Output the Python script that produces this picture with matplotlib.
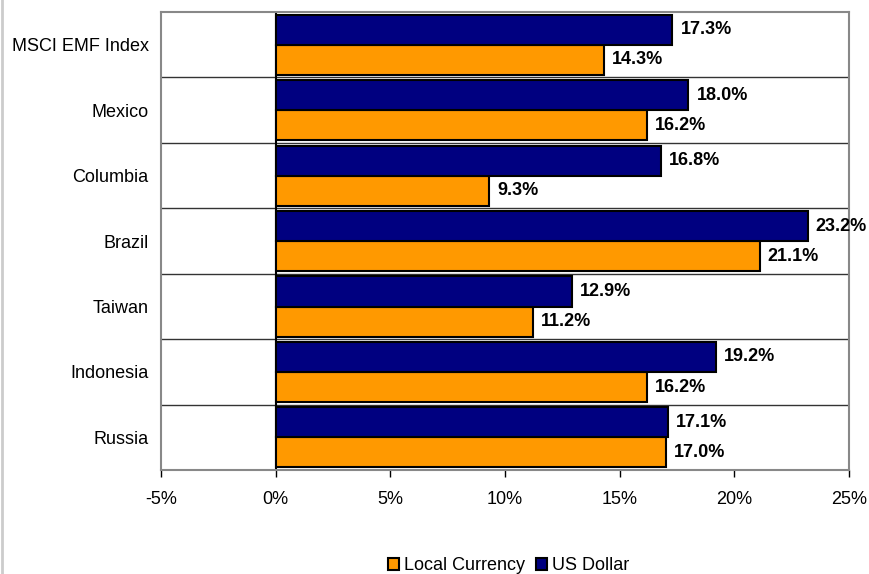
import matplotlib.pyplot as plt
import numpy as np
from matplotlib.lines import Line2D
from matplotlib.ticker import FuncFormatter

plt.rcParams['font.family'] = ['Liberation Sans', 'DejaVu Sans']

# categories listed bottom to top
countries = ['Russia', 'Indonesia', 'Taiwan', 'Brazil', 'Columbia', 'Mexico', 'MSCI EMF Index']
local_currency = [17.0, 16.2, 11.2, 21.1, 9.3, 16.2, 14.3]
us_dollar = [17.1, 19.2, 12.9, 23.2, 16.8, 18.0, 17.3]
x_ticks = [-5, 0, 5, 10, 15, 20, 25]

ORANGE = '#FF9900'
NAVY = '#000080'

fig = plt.figure(figsize=(8.69, 5.74), dpi=100)
ax = fig.add_axes([0.1853, 0.181, 0.7917, 0.798])

y = np.arange(len(countries))
h = 0.46
ax.barh(y - h / 2, local_currency, height=h, color=ORANGE, edgecolor='black',
        linewidth=1.5, label='Local Currency', zorder=3)
ax.barh(y + h / 2, us_dollar, height=h, color=NAVY, edgecolor='black',
        linewidth=1.5, label='US Dollar', zorder=3)

# value labels to the right of each bar
for yi, v in zip(y, local_currency):
    ax.text(v + 0.35, yi - h / 2, f'{v:.1f}%', va='center', ha='left',
            fontsize=13, fontweight='bold', zorder=4)
for yi, v in zip(y, us_dollar):
    ax.text(v + 0.35, yi + h / 2, f'{v:.1f}%', va='center', ha='left',
            fontsize=13, fontweight='bold', zorder=4)

ax.set_xlim(-5, 25)
ax.set_ylim(-0.5, len(countries) - 0.5)
ax.set_xticks(x_ticks)
ax.xaxis.set_major_formatter(FuncFormatter(lambda v, p: f'{v:.0f}%'))
ax.set_yticks(y)
ax.set_yticklabels(countries)

# category separators
for b in np.arange(0.5, len(countries) - 0.5, 1):
    ax.axhline(b, color='#333333', linewidth=1, zorder=1)
ax.axvline(0, color='black', linewidth=1.5, zorder=2)

for s in ax.spines.values():
    s.set_color('#888888')
    s.set_linewidth(1.5)

ax.tick_params(axis='x', length=5, width=1, color='black', labelsize=13, pad=10)
ax.tick_params(axis='y', length=0, labelsize=13, pad=9)

ax.legend(loc='center', bbox_to_anchor=(0.585, 0.014), bbox_transform=fig.transFigure,
          ncol=2, frameon=False, fontsize=13, handlelength=0.65, handleheight=0.65,
          handletextpad=0.25, columnspacing=0.6, borderaxespad=0.0, borderpad=0.0)

fig.add_artist(Line2D([0.002, 0.002], [0, 1], transform=fig.transFigure,
                      color='#cccccc', linewidth=2))

fig.savefig('out.png', dpi=100)
